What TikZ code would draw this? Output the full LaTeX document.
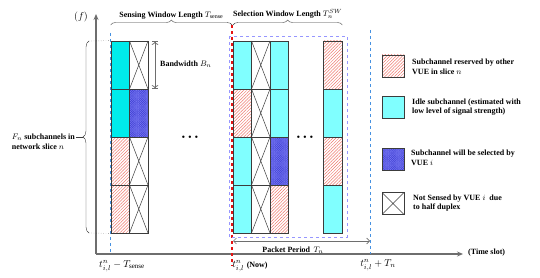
\documentclass[tikz,border=0pt]{standalone}
\usepackage{fontspec}
\setmainfont{Liberation Serif}
\usepackage{tikz}
\usetikzlibrary{arrows.meta,positioning,patterns.meta,decorations.pathreplacing}
\definecolor{cellgray}{RGB}{60,60,60}
\definecolor{axgray}{RGB}{110,110,110}
\definecolor{idlesense}{RGB}{0,236,236}
\definecolor{idlesel}{RGB}{128,255,255}
\definecolor{hatchred}{RGB}{238,120,110}
\definecolor{selblue}{RGB}{125,125,245}
\definecolor{seldark}{RGB}{70,70,215}
\definecolor{slotblue}{RGB}{70,145,225}
\definecolor{nowred}{RGB}{230,20,20}
\definecolor{winlav}{RGB}{150,150,255}
\tikzset{
  cell/.style={rectangle,draw=cellgray,line width=0.7pt,minimum width=18.5pt,minimum height=48pt,inner sep=0pt},
  idlecell/.style={cell,fill=idlesense},
  idleselcell/.style={cell,fill=idlesel},
  resvcell/.style={cell,pattern={Lines[angle=45,distance=2.2pt,line width=0.5pt]},pattern color=hatchred},
  selcell/.style={cell,preaction={fill=selblue},pattern={Hatch[angle=45,distance=1.3pt,line width=0.25pt]},pattern color=seldark},
  hdcell/.style={cell,fill=white,path picture={
      \draw[line width=0.5pt,cellgray] (path picture bounding box.north west) -- (path picture bounding box.south east)
      (path picture bounding box.north east) -- (path picture bounding box.south west);}},
  keybox/.style={minimum width=22pt,minimum height=22pt,line width=0.9pt},
  lbl/.style={font=\bfseries\fontsize{8}{9.5}\selectfont,inner sep=1pt},
  keytext/.style={lbl,anchor=west,align=left},
  winbrace/.style={draw=cellgray,decorate,decoration={brace,amplitude=5pt}},
  slotline/.style={dashed,line width=0.9pt,draw=slotblue},
  axis/.style={line width=1.4pt,draw=axgray,-{Stealth[length=6pt,width=5pt]}}
}

\begin{document}
\begin{tikzpicture}[x=1pt,y=-1pt]
  \useasboundingbox (0,0) rectangle (540,278);
  % axes
  \coordinate (orig) at (96,254);
  \coordinate (ftop) at (96,14);
  \coordinate (tend) at (463,254);
  \draw[axis] (orig) -- (ftop);
  \draw[axis] (orig) -- (tend);
  \node[font=\fontsize{10}{12}\selectfont] (flab) at (81,17) {$(f)$};
  \node[lbl,anchor=west] (tlab) at (467,253) {(Time slot)};
  % time marks
  \coordinate (s0) at (110,33);
  \coordinate (s1) at (110,254);
  \coordinate (n0) at (232,25);
  \coordinate (n1) at (232,266);
  \coordinate (p0) at (370,30);
  \coordinate (p1) at (370,254);
  \draw[slotline] (s0) -- (s1);
  \draw[slotline] (p0) -- (p1);
  \draw[dashed,line width=1.6pt,draw=nowred] (n0) -- (n1);
  \draw[dashed,line width=0.8pt,draw=winlav] (229,36) rectangle (347,237);
  % sensing window
  \node[idlecell] (sa1) at (120.25,65) {};
  \node[idlecell] (sa2) at (120.25,113) {};
  \node[resvcell] (sa3) at (120.25,161) {};
  \node[resvcell] (sa4) at (120.25,209) {};
  \node[hdcell] (sb1) at (138.75,65) {};
  \node[selcell] (sb2) at (138.75,113) {};
  \node[hdcell] (sb3) at (138.75,161) {};
  \node[hdcell] (sb4) at (138.75,209) {};
  % selection window
  \node[idleselcell] (ca1) at (242.25,65) {};
  \node[resvcell] (ca2) at (242.25,113) {};
  \node[idleselcell] (ca3) at (242.25,161) {};
  \node[idleselcell] (ca4) at (242.25,209) {};
  \node[hdcell] (cb1) at (260.75,65) {};
  \node[hdcell] (cb2) at (260.75,113) {};
  \node[hdcell] (cb3) at (260.75,161) {};
  \node[hdcell] (cb4) at (260.75,209) {};
  \node[idleselcell] (cc1) at (279.25,65) {};
  \node[idleselcell] (cc2) at (279.25,113) {};
  \node[selcell] (cc3) at (279.25,161) {};
  \node[resvcell] (cc4) at (279.25,209) {};
  \node[resvcell] (cd1) at (332.75,65) {};
  \node[idleselcell] (cd2) at (332.75,113) {};
  \node[resvcell] (cd3) at (332.75,161) {};
  \node[idleselcell] (cd4) at (332.75,209) {};
  \node[font=\fontsize{5}{5}\selectfont] (dots1) at (190,137) {$\bullet\ \bullet\ \bullet$};
  \node[font=\fontsize{5}{5}\selectfont] (dots2) at (305,137) {$\bullet\ \bullet\ \bullet$};
  % window braces
  \draw[winbrace] (sa1.north west |- n0) -- (n0) node[lbl,midway,above=5pt] (swin) {Sensing Window Length $T_{\mathrm{sense}}$};
  \draw[winbrace] (233,25) -- (cd1.north east |- n0) node[lbl,midway,above=5pt] (cwin) {Selection Window Length $T_n^{SW}$};
  % bandwidth
  \coordinate (bw0) at (155,41);
  \coordinate (bw1) at (155,89);
  \draw[|<->|,draw=axgray,line width=0.7pt] (bw0) -- (bw1);
  \node[lbl,anchor=west] (bwlab) at (159,64) {Bandwidth $B_n$};
  % subchannels brace
  \coordinate (fb0) at (89,233);
  \coordinate (fb1) at (89,41);
  \draw[winbrace,decoration={brace,amplitude=6pt}] (fb0) -- (fb1) coordinate[midway,xshift=-6pt] (fbtip);
  \draw[dotted,draw=cellgray] (fb1) -- (sa1.north west);
  \draw[dotted,draw=cellgray] (fb0) -- (sa4.south west);
  \node[lbl,align=left,anchor=east] (fnlab) at (76,142) {$F_n$ subchannels in\\network slice $n$};
  \draw[draw=cellgray,line width=0.6pt] (fnlab.east |- fbtip) -- (fbtip);
  % packet period
  \coordinate (pp0) at (233,241);
  \draw[{Straight Barb[length=3pt]}-{Straight Barb[length=3pt]},draw=axgray,line width=0.6pt] (pp0) -- (pp0 -| p1);
  \node[lbl] (pplab) at (293,250) {Packet Period \,$T_n$};
  % time labels
  \node[font=\fontsize{10}{12}\selectfont] (tsense) at (122,266) {$t_{i,l}^{n}-T_{\mathrm{sense}}$};
  \node[font=\fontsize{10}{12}\selectfont] (tnow) at (250,266) {$t_{i,l}^{n}$ {\bfseries\fontsize{8}{9}\selectfont(Now)}};
  \node[font=\fontsize{10}{12}\selectfont] (tnext) at (378,265) {$t_{i,l}^{n}+T_n$};
  % legend
  \node[resvcell,keybox] (kres) at (393,66) {};
  \node[idleselcell,keybox] (kidle) at (393,107.5) {};
  \node[selcell,keybox] (ksel) at (393,159.5) {};
  \node[hdcell,keybox] (khd) at (393,203.5) {};
  \node[keytext] (tres) at (411,67) {Subchannel reserved by other\\VUE in slice $n$};
  \node[keytext] (tidle) at (411,107) {Idle subchannel (estimated with\\low level of signal strength)};
  \node[keytext] (tsel) at (410,158) {Subchannel will be selected by\\VUE $i$};
  \node[keytext] (thd) at (412,203) {Not Sensed by VUE $i$~ due\\to half duplex};
\end{tikzpicture}
\end{document}
